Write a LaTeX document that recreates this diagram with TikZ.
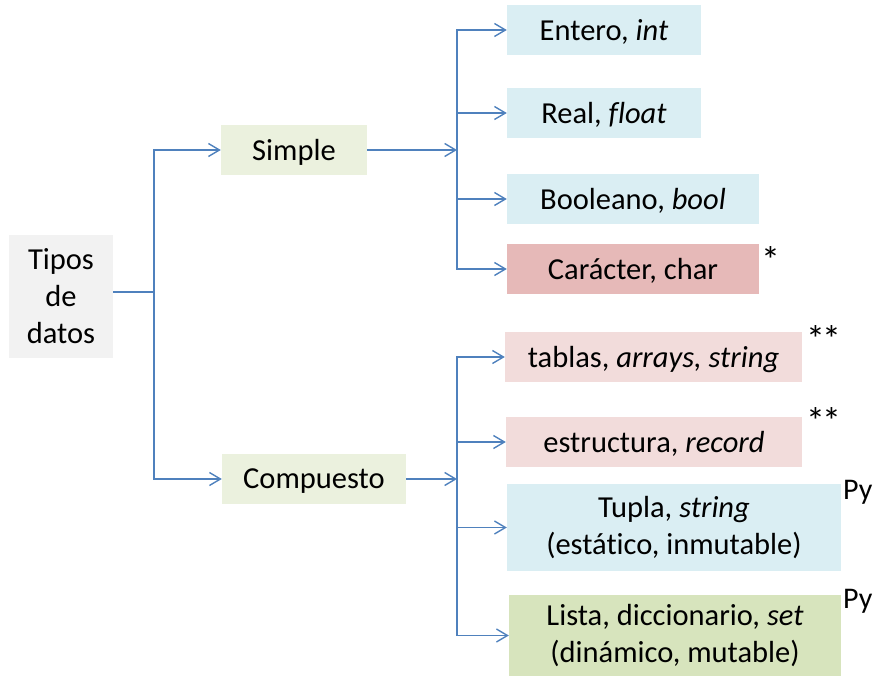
\documentclass[tikz,border=0pt]{standalone}
\usepackage{fontspec}
\setmainfont{Carlito}[Ligatures=NoCommon]
\usetikzlibrary{arrows.meta}
\definecolor{gris}{HTML}{F2F2F2}
\definecolor{verdeclaro}{HTML}{EBF1DE}
\definecolor{azul}{HTML}{DAEEF3}
\definecolor{rojo}{HTML}{E6B9B8}
\definecolor{rosa}{HTML}{F2DCDB}
\definecolor{verde}{HTML}{D7E4BD}
\definecolor{linea}{HTML}{4F81BD}

\begin{document}
\begin{tikzpicture}[x=1pt,y=-1pt,
		TipoStyle/.style = {inner sep=0pt, align=center, font=\fontsize{30.5}{37}\selectfont},
		EdgeStyle/.style = {draw=linea, line width=1.4pt},
		>={Straight Barb[length=11pt,width=13pt]}]
	\useasboundingbox (0,0) rectangle (874,676);
	\begin{scope}[every node/.append style = {TipoStyle}]
		\node[fill=gris, minimum width=104, minimum height=123] (tipos) at (61,296.5) {Tipos\\de\\datos};
		\node[fill=verdeclaro, minimum width=146, minimum height=50, text depth=0pt] (simple) at (294,150) {Simple};
		\node[fill=verdeclaro, minimum width=184, minimum height=50, text depth=0pt] (compuesto) at (314,479) {Compuesto};
	\end{scope}
	\begin{scope}[every node/.append style = {TipoStyle, minimum height=50, text depth=0pt}]
		\node[fill=azul, minimum width=194] (entero) at (604,30) {Entero, \textit{int}};
		\node[fill=azul, minimum width=194] (real) at (604,113) {Real, \textit{float}};
		\node[fill=azul, minimum width=252] (booleano) at (633,199) {Booleano, \textit{bool}};
		\node[fill=rojo, minimum width=252] (caracter) at (633,269) {Carácter, char};
		\node[fill=rosa, minimum width=297] (tablas) at (653.5,357) {tablas, \textit{arrays, string}};
		\node[fill=rosa, minimum width=296] (estructura) at (654,442) {estructura, \textit{record}};
	\end{scope}
	\begin{scope}[every node/.append style = {TipoStyle}]
		\node[fill=azul, minimum width=334, minimum height=87] (tupla) at (674,527.5) {Tupla, \textit{string}\\(estático, inmutable)};
		\node[fill=verde, minimum width=332, minimum height=81] (lista) at (675,635.5) {Lista, diccionario, \textit{set}\\(dinámico, mutable)};
	\end{scope}
	% marcas
	\begin{scope}[every node/.append style = {TipoStyle, anchor=base west}]
		\node[font=\fontsize{38}{38}\selectfont] (m1) at (761,273) {*};
		\node[font=\fontsize{38}{38}\selectfont] (m2) at (806,352) {*\kern-3pt*};
		\node[font=\fontsize{38}{38}\selectfont] (m3) at (806,434) {*\kern-3pt*};
		\node[font=\fontsize{30}{34}\selectfont] (m4) at (843,499) {Py};
		\node[font=\fontsize{30}{34}\selectfont] (m5) at (843,608) {Py};
	\end{scope}
	\coordinate (j1) at (154,292);
	\coordinate (j2) at (457,150);
	\coordinate (j3) at (457,479);
	\draw[EdgeStyle] (tipos.east |- j1) -- (j1);
	\draw[EdgeStyle,->] (j1) |- (simple);
	\draw[EdgeStyle,->] (j1) |- (compuesto);
	\draw[EdgeStyle,->] (simple) -- (j2);
	\draw[EdgeStyle,->] (compuesto) -- (j3);
	\foreach \t in {entero, real, booleano, caracter}
		\draw[EdgeStyle,->] (j2) |- (\t);
	\foreach \t in {tablas, estructura, tupla, lista}
		\draw[EdgeStyle,->] (j3) |- (\t);
\end{tikzpicture}
\end{document}
